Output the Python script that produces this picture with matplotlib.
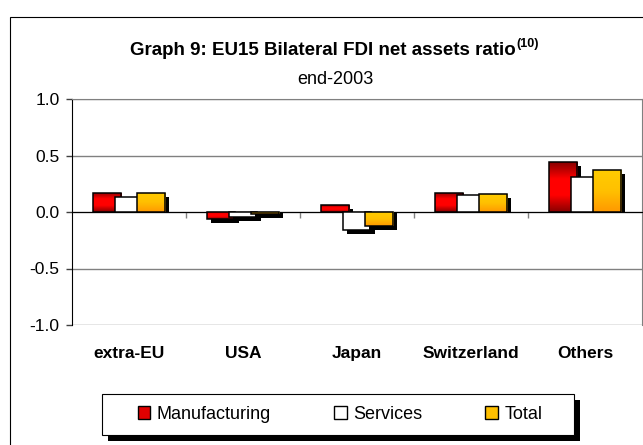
import numpy as np
import matplotlib
matplotlib.use("Agg")
import matplotlib.pyplot as plt
from matplotlib import transforms
from matplotlib.patches import Rectangle, Patch
from matplotlib.colors import LinearSegmentedColormap
from matplotlib.ticker import FormatStrFormatter

plt.rcParams["font.family"] = ["Liberation Sans", "DejaVu Sans"]
plt.rcParams["axes.unicode_minus"] = False

# data
categories = ["extra-EU", "USA", "Japan", "Switzerland", "Others"]
series_names = ["Manufacturing", "Services", "Total"]
manufacturing = [0.17, -0.065, 0.06, 0.17, 0.44]
services = [0.13, -0.04, -0.16, 0.15, 0.31]
total = [0.17, -0.02, -0.12, 0.155, 0.37]
yticks = [-1.0, -0.5, 0.0, 0.5, 1.0]

W, H = 643, 445


def fx(px):
    return px / W


def fy(py):
    return 1 - py / H


fig = plt.figure(figsize=(W / 100, H / 100), dpi=100)

# outer chart frame (runs off the right and bottom edge)
fig.patches.append(Rectangle((fx(10), -0.2), 2, fy(17) + 0.2, transform=fig.transFigure,
                             fill=False, edgecolor="black", lw=0.8, zorder=0))

ax = fig.add_axes([fx(72), fy(325), (642 - 72) / W, (325 - 99) / H])
ax.set_xlim(-0.5, len(categories) - 0.5)
ax.set_ylim(-1, 1)

x = np.arange(len(categories))
width = 0.246
step = 0.189
# hard shadow: 4 px right, 4 px down, base kept on the zero line
shift_x = ax.transData + transforms.ScaledTranslation(0.04, 0, fig.dpi_scale_trans)
dy = 4 / (ax.bbox.height / 2.0)

red_grad = LinearSegmentedColormap.from_list("red", ["#8a0000", "#ff0000", "#ff0000", "#8a0000"])
gold_grad = LinearSegmentedColormap.from_list("gold", ["#ffcc00", "#ffc000", "#ff9900"])
column = np.linspace(0, 1, 64).reshape(-1, 1)

styles = [(manufacturing, red_grad, None), (services, None, "white"), (total, gold_grad, None)]

for i, (vals, cmap, face) in enumerate(styles):
    z = 3 + i * 3
    pos = x + (i - 1) * step
    shadow = ax.bar(pos, np.array(vals) - dy, width, color="black", lw=0, zorder=z)
    for p in shadow:
        p.set_transform(shift_x)
    bars = ax.bar(pos, vals, width, facecolor=face if face else "none",
                  edgecolor="black", lw=1.1, zorder=z + 2)
    if cmap is not None:
        for p in bars:
            x0, y0, bw, bh = p.get_x(), p.get_y(), p.get_width(), p.get_height()
            im = ax.imshow(column, cmap=cmap, origin="upper", aspect="auto",
                           extent=(x0, x0 + bw, min(y0, y0 + bh), max(y0, y0 + bh)),
                           zorder=z + 1)
            im.set_clip_path(p)

ax.set_xlim(-0.5, len(categories) - 0.5)
ax.set_ylim(-1, 1)
ax.set_yticks(yticks)
ax.yaxis.set_major_formatter(FormatStrFormatter("%.1f"))
ax.tick_params(axis="y", length=4, width=1, color="#404040", pad=5, labelsize=12.5)
ax.yaxis.grid(True, color="#808080", lw=1)
ax.set_axisbelow(True)

ax.spines["bottom"].set_position(("data", 0))
ax.spines["bottom"].set_color("black")
ax.spines["left"].set_color("black")
ax.spines["top"].set_color("#808080")
ax.spines["right"].set_color("#808080")
ax.set_xticks(x[:-1] + 0.5)
ax.set_xticklabels([])
ax.tick_params(axis="x", length=4, width=1, color="#808080")

lab_tr = transforms.blended_transform_factory(ax.transData, ax.transAxes)
for xi, c in zip(x, categories):
    ax.text(xi, -0.128, c, transform=lab_tr, ha="center", va="center",
            fontsize=12.5, fontweight="bold")

# titles
t = fig.text(fx(323), fy(55), "Graph 9: EU15 Bilateral FDI net assets ratio",
             ha="center", va="baseline", fontsize=13.5, fontweight="bold")
fig.canvas.draw()
ax.annotate("(10)", xy=(1, 1), xycoords=t, xytext=(0.5, 3), textcoords="offset points",
            ha="left", va="top", fontsize=9, fontweight="bold", annotation_clip=False)
fig.text(fx(335), fy(84), "end-2003", ha="center", va="baseline", fontsize=13)

# legend with a boxed frame and a hard shadow
fig.patches.append(Rectangle((fx(108), fy(441)), 472 / W, 41 / H, transform=fig.transFigure,
                             facecolor="black", edgecolor="none", zorder=1))
fig.patches.append(Rectangle((fx(102), fy(435)), 472 / W, 41 / H, transform=fig.transFigure,
                             facecolor="white", edgecolor="black", lw=0.8, zorder=2))
handles = [Patch(facecolor="#e00000", edgecolor="black"),
           Patch(facecolor="white", edgecolor="black"),
           Patch(facecolor="#ffc000", edgecolor="black")]
fig.legend(handles, series_names, ncol=3, loc="center", bbox_to_anchor=(fx(340), fy(414.5)),
           frameon=False, fontsize=13, handlelength=0.7, handleheight=0.7,
           handletextpad=0.35, columnspacing=3.5, borderpad=0, borderaxespad=0)

fig.savefig("out.png", dpi=100)
